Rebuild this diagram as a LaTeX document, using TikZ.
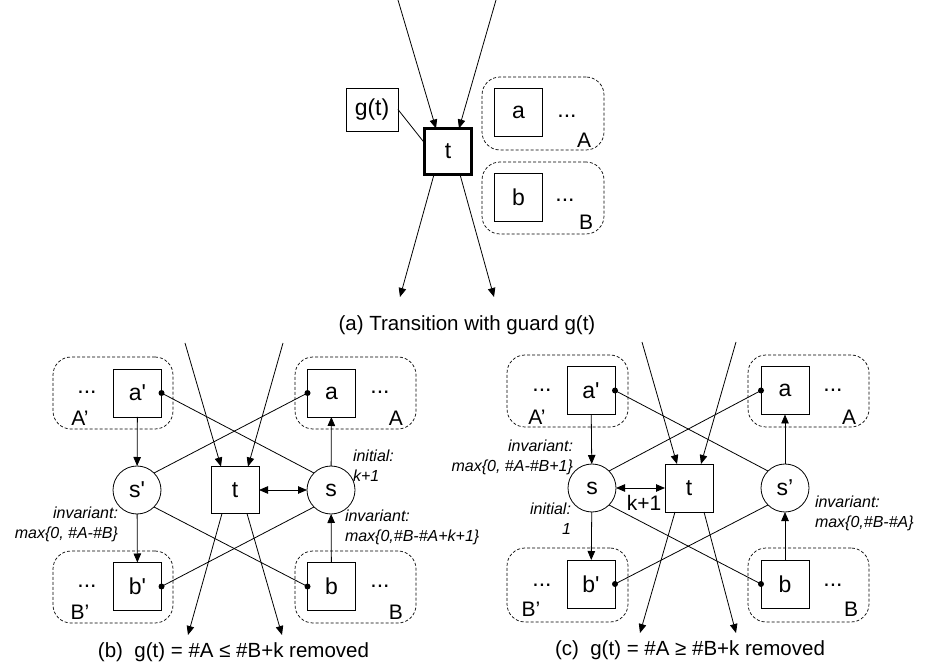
\documentclass[tikz,border=0pt]{standalone}
\usepackage{fontspec}
\setmainfont{Liberation Sans}
\usetikzlibrary{arrows.meta,calc}
\newcommand{\sq}{\textquotesingle}
\begin{document}
\begin{tikzpicture}[x=1pt,y=-1pt,
  every node/.style={inner sep=0pt, outer sep=0pt, font=\fontsize{23}{26}\selectfont},
  sq/.style={draw, line width=0.8pt, minimum width=48pt, minimum height=48pt},
  circ/.style={draw, circle, line width=0.8pt, minimum size=48pt},
  grp/.style={draw, dash pattern=on 3pt off 2pt, rounded corners=18pt, line width=0.7pt, minimum width=121pt, minimum height=72pt},
  glbl/.style={font=\fontsize{21}{24}\selectfont},
  arr/.style={-{Triangle[length=9pt,width=7.5pt]}, line width=0.8pt},
  darr/.style={{Triangle[length=9pt,width=7.5pt]}-{Triangle[length=9pt,width=7.5pt]}, line width=0.8pt},
  ln/.style={line width=0.8pt},
  lbl/.style={font=\fontsize{16}{20}\selectfont\itshape},
  captext/.style={font=\fontsize{20.5}{24}\selectfont}
]
\useasboundingbox (0,0) rectangle (930,668);

% ---------------- (a) ----------------
\node[grp, minimum width=122pt, minimum height=73pt] (gAa) at (543,113.5) {};
\node[grp, minimum width=122pt, minimum height=72pt] (gBa) at (543,198) {};
\node[draw, line width=3pt, minimum width=47pt, minimum height=46pt] (ta) at (448,151.5) {t};
\node[draw, line width=0.8pt, minimum width=52pt, minimum height=43pt] (ga) at (372,109.5) {g(t)};
\node[sq] (aa) at (518.5,112.5) {a};
\node[sq] (ba) at (518.5,197.5) {b};
\node (dAa) at (567,116) {...};
\node[glbl] (lAa) at (584,140) {A};
\node (dBa) at (565,200) {...};
\node[glbl] (lBa) at (586,222) {B};
\coordinate (ia1) at (398,0);
\coordinate (ia2) at (496,0);
\coordinate (oa1) at (400,297);
\coordinate (oa2) at (494,297);
\draw[arr] (ia1) -- ([xshift=-12pt]ta.north);
\draw[arr] (ia2) -- ([xshift=11pt]ta.north);
\draw[arr] ([xshift=-14pt]ta.south) -- (oa1);
\draw[arr] ([xshift=12pt]ta.south) -- (oa2);
\draw[ln] (ga.east) -- (ta.160);
\node[captext] (capa) at (467,325) {(a) Transition with guard g(t)};

% ---------------- (b) ----------------
\node[grp, minimum width=120pt] (gA1b) at (113,393) {};
\node[grp] (gAb) at (355.5,393) {};
\node[grp, minimum width=120pt] (gB1b) at (113,587) {};
\node[grp] (gBb) at (355.5,587) {};
\node[sq, minimum height=47pt] (tb) at (235,490) {t};
\node[circ] (s1b) at (137,490) {s\sq};
\node[circ] (sb) at (331,490) {s};
\node[sq] (a1b) at (137.5,393) {a\sq};
\node[sq] (ab) at (331.5,393) {a};
\node[sq] (b1b) at (137.5,586.5) {b\sq};
\node[sq] (bb) at (331.5,586.5) {b};
\node (dA1b) at (87,392) {...};
\node[glbl] (lA1b) at (80,418) {A’};
\node (dAb) at (380,392) {...};
\node[glbl] (lAb) at (396,418) {A};
\node (dB1b) at (87,586) {...};
\node[glbl] (lB1b) at (80,612) {B’};
\node (dBb) at (380,586) {...};
\node[glbl] (lBb) at (396,612) {B};
\draw[arr] (a1b) -- (s1b);
\draw[arr] (s1b) -- (b1b);
\draw[arr] (bb) -- (sb);
\draw[arr] (sb) -- (ab);
\draw[darr] (tb) -- (sb);
\draw[ln] (a1b.east) -- (sb.135);
\fill (a1b.east) circle (3pt);
\draw[ln] (ab.west) -- (s1b.45);
\fill (ab.west) circle (3pt);
\draw[ln] (b1b.east) -- (sb.225);
\fill (b1b.east) circle (3pt);
\draw[ln] (bb.west) -- (s1b.-45);
\fill (bb.west) circle (3pt);
\coordinate (ib1) at (185,343);
\coordinate (ib2) at (283,343);
\coordinate (ob1) at (188,635);
\coordinate (ob2) at (282,635);
\draw[arr] (ib1) -- ([xshift=-14pt]tb.north);
\draw[arr] (ib2) -- ([xshift=13pt]tb.north);
\draw[arr] ([xshift=-13pt]tb.south) -- (ob1);
\draw[arr] ([xshift=12pt]tb.south) -- (ob2);
\node[lbl, anchor=west, align=left] (initb) at (353,466) {initial:\\k+1};
\node[lbl, anchor=west, align=left] (invb) at (345,527) {invariant:\\max\{0,\#B-\#A+k+1\}};
\node[lbl, anchor=east, align=right] (inv1b) at (118,524) {invariant:\\max\{0, \#A-\#B\}};
\node[captext] (capb) at (233.5,652) {(b)\ \ g(t) = \#A ≤ \#B+k removed};

% ---------------- (c) ----------------
\node[grp] (gA1c) at (567.5,391) {};
\node[grp] (gAc) at (808.5,391) {};
\node[grp, minimum height=74pt] (gB1c) at (567.5,585) {};
\node[grp, minimum height=74pt] (gBc) at (808.5,585) {};
\node[sq] (tc) at (689,488) {t};
\node[circ] (sc) at (592,488) {s};
\node[circ] (s1c) at (785,488) {s’};
\node[sq] (a1c) at (591,390.5) {a\sq};
\node[sq] (ac) at (785,390.5) {a};
\node[sq] (b1c) at (591,584) {b\sq};
\node[sq] (bc) at (785,584) {b};
\node (dA1c) at (542,390) {...};
\node[glbl] (lA1c) at (537,417) {A’};
\node (dAc) at (833,390) {...};
\node[glbl] (lAc) at (849,417) {A};
\node (dB1c) at (542,585) {...};
\node[glbl] (lB1c) at (531,609) {B’};
\node (dBc) at (833,585) {...};
\node[glbl] (lBc) at (851,609) {B};
\draw[arr] (a1c) -- (sc);
\draw[arr] (sc) -- (b1c);
\draw[arr] (bc) -- (s1c);
\draw[arr] (s1c) -- (ac);
\draw[darr] (sc) -- (tc);
\draw[ln] (a1c.east) -- (s1c.135);
\fill (a1c.east) circle (3pt);
\draw[ln] (ac.west) -- (sc.45);
\fill (ac.west) circle (3pt);
\draw[ln] (b1c.east) -- (s1c.225);
\fill (b1c.east) circle (3pt);
\draw[ln] (bc.west) -- (sc.-45);
\fill (bc.west) circle (3pt);
\coordinate (ic1) at (642,342);
\coordinate (ic2) at (736,342);
\coordinate (oc1) at (640,633);
\coordinate (oc2) at (736,633);
\draw[arr] (ic1) -- ([xshift=-12pt]tc.north);
\draw[arr] (ic2) -- ([xshift=12pt]tc.north);
\draw[arr] ([xshift=-14pt]tc.south) -- (oc1);
\draw[arr] ([xshift=15pt]tc.south) -- (oc2);
\node[glbl] (kc) at (644,503) {k+1};
\node[lbl, anchor=east, align=right] (invc) at (573,457) {invariant:\\max\{0, \#A-\#B+1\}};
\node[lbl, anchor=east, align=right] (initc) at (571,519) {initial:\\1\hspace{4pt}};
\node[lbl, anchor=west, align=left] (inv1c) at (815,513) {invariant:\\max\{0,\#B-\#A\}};
\node[captext] (capc) at (690,650) {(c)\ \ g(t) = \#A ≥ \#B+k removed};
\end{tikzpicture}
\end{document}
